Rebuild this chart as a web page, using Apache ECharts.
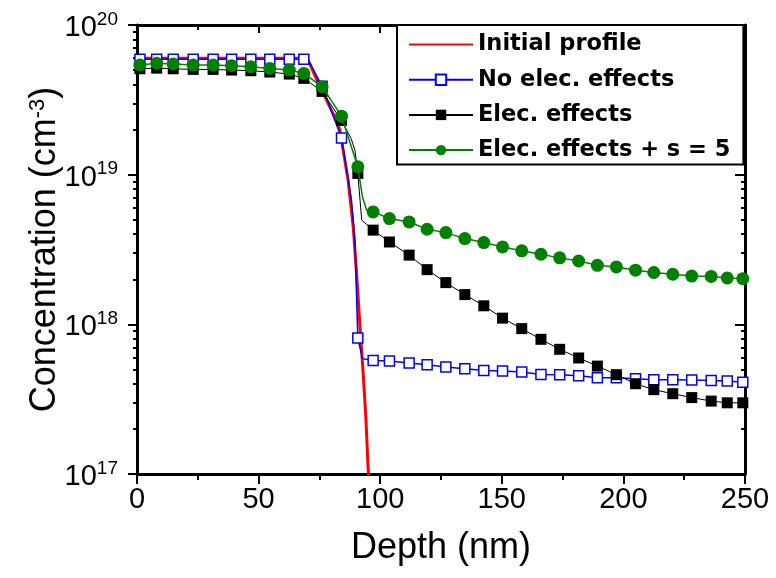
<!DOCTYPE html>
<html>
<head>
<meta charset="utf-8">
<script src="https://cdn.jsdelivr.net/npm/echarts@6/dist/echarts.min.js"></script>
<style>
html,body{margin:0;padding:0;background:#fff;}
#chart{width:776px;height:578px;}
</style>
</head>
<body>
<div id="chart"></div>
<script>
// ---- data ----
const seriesNames = ['Initial profile', 'No elec. effects', 'Elec. effects', 'Elec. effects + s = 5'];

// marker depths (nm), shared by the three simulated profiles
const depthNm = [1.2, 8.1, 14.9, 23.1, 31.3, 38.9, 46.8, 54.6, 62.6, 68.6, 76.1, 84.1, 90.8, 97.1,
  103.8, 111.9, 119.3, 127, 134.8, 142.6, 150.3, 158.2, 166.1, 173.8, 181.6, 189.3, 197.1, 205,
  212.5, 220.3, 228.1, 236.1, 242.7, 249.1];

const initialX = [0, 70, 73.4, 80.6, 83.4, 86.8, 88.9, 90.3, 91.6, 93.0, 94.1, 95.0, 95.5];
const initialY = [6.0e19, 6.0e19, 4.5e19, 2.56e19, 1.99e19, 9.2e18, 4.5e18, 2.18e18, 1.01e18, 4.7e17, 2.4e17, 1.11e17, 0.9e17];

const noElecY = [5.9e19, 5.9e19, 5.9e19, 5.9e19, 5.9e19, 5.9e19, 5.9e19, 5.9e19, 5.9e19, 5.9e19,
  3.9e19, 1.76e19, 8.1e17, 5.74e17, 5.69e17, 5.51e17, 5.37e17, 5.18e17, 5.05e17, 4.92e17, 4.88e17,
  4.80e17, 4.63e17, 4.61e17, 4.54e17, 4.40e17, 4.40e17, 4.33e17, 4.27e17, 4.27e17, 4.25e17, 4.22e17,
  4.18e17, 4.11e17];
const noElecLineX = [71, 79.3, 88.2, 89.6, 92.7];
const noElecLineY = [5.6e19, 2.85e19, 6.7e18, 3.6e18, 5.9e17];

const elecY = [5.1e19, 5.15e19, 5.1e19, 5.05e19, 5.05e19, 5.0e19, 4.95e19, 4.85e19, 4.7e19, 4.4e19,
  3.6e19, 2.3e19, 1.02e19, 4.26e18, 3.55e18, 2.90e18, 2.32e18, 1.90e18, 1.58e18, 1.33e18, 1.10e18,
  9.36e17, 7.94e17, 6.81e17, 5.96e17, 5.26e17, 4.61e17, 4.01e17, 3.66e17, 3.44e17, 3.24e17, 3.07e17,
  2.99e17, 2.99e17];
const elecLineX = [88, 89.6, 92.4];
const elecLineY = [1.75e19, 1.46e19, 4.97e18];

const elecSY = [5.40e19, 5.55e19, 5.49e19, 5.40e19, 5.40e19, 5.34e19, 5.26e19, 5.13e19, 5.00e19, 4.75e19,
  3.87e19, 2.46e19, 1.13e19, 5.64e18, 5.09e18, 4.83e18, 4.32e18, 4.10e18, 3.74e18, 3.52e18, 3.29e18,
  3.10e18, 2.94e18, 2.78e18, 2.65e18, 2.48e18, 2.42e18, 2.30e18, 2.22e18, 2.16e18, 2.10e18, 2.09e18,
  2.04e18, 2.02e18];
const elecSLineX = [92.7, 94.4];
const elecSLineY = [7.1e18, 5.8e18];

const xTickValues = [0, 50, 100, 150, 200, 250];
const yDecades = [1e17, 1e18, 1e19, 1e20];
const yMinorMultipliers = [2, 3, 4, 5, 6, 7, 8, 9];

// ---- build ----
function buildData(xs, ys, lx, ly) {
  const pts = xs.map((x, i) => ({ value: [x, ys[i]] }));
  (lx || []).forEach((x, i) => pts.push({ value: [x, ly[i]], symbol: 'none' }));
  pts.sort((a, b) => a.value[0] - b.value[0]);
  return pts;
}
const yMinor = [];
yDecades.slice(0, 3).forEach(d => yMinorMultipliers.forEach(m => yMinor.push(m * d)));

const tickFont = 'Liberation Sans, Arial, sans-serif';
const AXC = '#000';

function yAxisBase(extra) {
  return Object.assign({
    type: 'log', logBase: 10, min: 1e17, max: 1e20,
    splitLine: { show: false },
    axisLine: { show: true, lineStyle: { color: AXC, width: 3 } },
    axisLabel: { show: false },
    minorTick: { show: false }
  }, extra);
}

const chart = echarts.init(document.getElementById('chart'), null, { renderer: 'canvas' });
const option = {
  backgroundColor: '#fff',
  animation: false,
  grid: { left: 137, right: 31, top: 25, bottom: 104 },
  legend: {
    orient: 'vertical',
    left: 397, top: 25,
    padding: [8, 13, 3, 11],
    itemGap: 12.2,
    itemWidth: 64, itemHeight: 13,
    backgroundColor: '#fff',
    borderColor: '#000', borderWidth: 2,
    textStyle: { fontFamily: 'DejaVu Sans', fontWeight: 'bold', fontSize: 22.5, color: '#000', lineHeight: 22 },
    data: [
      { name: seriesNames[0], itemStyle: { opacity: 0 } },
      seriesNames[1], seriesNames[2], seriesNames[3]
    ]
  },
  xAxis: [{
    type: 'value', position: 'bottom', min: 0, max: 250, interval: 50,
    name: 'Depth (nm)', nameLocation: 'middle', nameGap: 56, nameMoveOverlap: false,
    nameTextStyle: { fontFamily: tickFont, fontSize: 36, color: '#000' },
    splitLine: { show: false },
    axisLine: { lineStyle: { color: AXC, width: 3 } },
    axisTick: { show: true, length: 10, lineStyle: { color: AXC, width: 2 } },
    minorTick: { show: true, splitNumber: 2, length: 6, lineStyle: { color: AXC, width: 2 } },
    axisLabel: { fontFamily: tickFont, fontSize: 29, color: '#000', margin: 11,
      customValues: xTickValues }
  }, {
    type: 'value', position: 'top', min: 0, max: 250, interval: 50,
    splitLine: { show: false },
    axisLine: { lineStyle: { color: AXC, width: 3 } },
    axisTick: { show: true, inside: true, length: 8, lineStyle: { color: AXC, width: 2 } },
    minorTick: { show: true, splitNumber: 2, length: 5, lineStyle: { color: AXC, width: 2 } },
    axisLabel: { show: false }
  }],
  yAxis: [
    yAxisBase({
      position: 'left',
      name: '{a|Concentration (cm}{s|-3}{a|)}',
      nameLocation: 'middle', nameGap: 74, nameRotate: 90, nameMoveOverlap: false,
      nameTextStyle: { fontFamily: tickFont, fontSize: 36, color: '#000',
        rich: { a: { fontFamily: tickFont, fontSize: 36, color: '#000' },
                s: { fontFamily: tickFont, fontSize: 22, color: '#000', verticalAlign: 'top', lineHeight: 8 } } },
      axisTick: { show: true, length: 9, lineStyle: { color: AXC, width: 2 } },
      axisLabel: {
        show: true, margin: 19, padding: [6, 0, 0, 0],
        formatter: v => '{b|10}{s|' + Math.round(Math.log10(v)) + '}',
        rich: {
          b: { fontFamily: tickFont, fontSize: 29, color: '#000', lineHeight: 36, verticalAlign: 'middle' },
          s: { fontFamily: tickFont, fontSize: 19, color: '#000', lineHeight: 6, verticalAlign: 'top' }
        }
      }
    }),
    yAxisBase({
      position: 'left', axisLine: { show: false },
      axisTick: { show: true, length: 4, lineStyle: { color: AXC, width: 2 }, customValues: yMinor }
    }),
    yAxisBase({
      position: 'right',
      axisTick: { show: true, inside: true, length: 10, lineStyle: { color: AXC, width: 2 } }
    }),
    yAxisBase({
      position: 'right', axisLine: { show: false },
      axisTick: { show: true, inside: true, length: 4, lineStyle: { color: AXC, width: 2 }, customValues: yMinor }
    })
  ],
  series: [
    {
      name: seriesNames[0], type: 'line', xAxisIndex: 0, yAxisIndex: 0,
      data: buildData(initialX, initialY), symbol: 'none', showSymbol: false,
      lineStyle: { color: '#ff0000', width: 3 }, itemStyle: { color: '#ff0000' }, z: 2
    },
    {
      name: seriesNames[1], type: 'line', xAxisIndex: 0, yAxisIndex: 0,
      data: buildData(depthNm, noElecY, noElecLineX, noElecLineY),
      symbol: 'rect', symbolSize: 10, showAllSymbol: true,
      lineStyle: { color: '#0000ff', width: 1.5 },
      itemStyle: { color: '#fff', borderColor: '#0000ff', borderWidth: 1.5 }, z: 3
    },
    {
      name: seriesNames[2], type: 'line', xAxisIndex: 0, yAxisIndex: 0,
      data: buildData(depthNm, elecY, elecLineX, elecLineY),
      symbol: 'rect', symbolSize: 11, showAllSymbol: true,
      lineStyle: { color: '#000', width: 1 },
      itemStyle: { color: '#000' }, z: 4
    },
    {
      name: seriesNames[3], type: 'line', xAxisIndex: 0, yAxisIndex: 0,
      data: buildData(depthNm, elecSY, elecSLineX, elecSLineY),
      symbol: 'circle', symbolSize: 13, showAllSymbol: true,
      lineStyle: { color: '#008000', width: 1.5 },
      itemStyle: { color: '#008000' }, z: 5
    }
  ]
};
chart.setOption(option);
</script>
</body>
</html>
